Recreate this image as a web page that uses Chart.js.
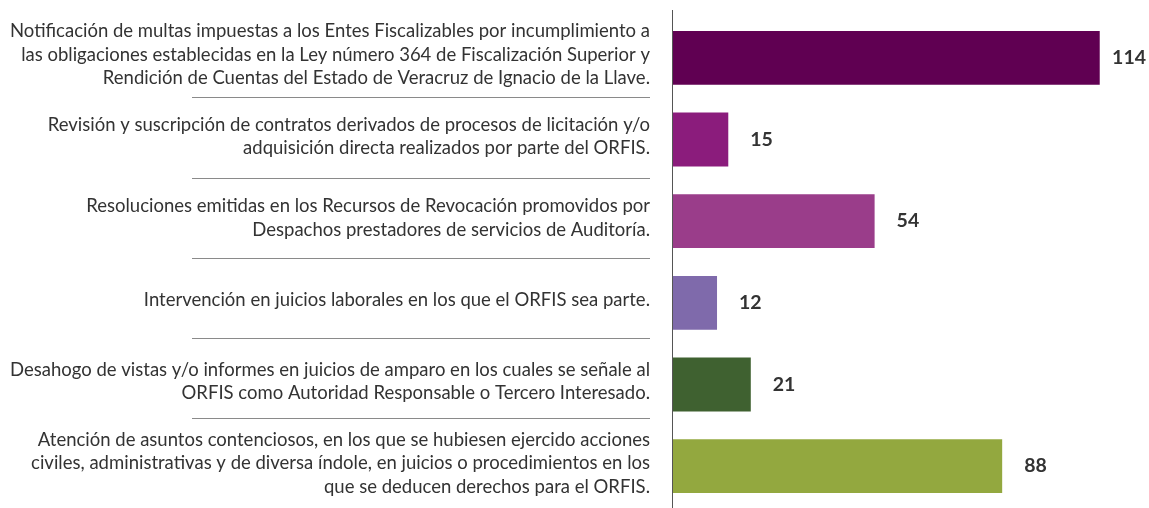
<!DOCTYPE html>
<html>
<head>
<meta charset="utf-8">
<script src="https://cdn.jsdelivr.net/npm/chart.js@4/dist/chart.umd.min.js"></script>
<style>
  html, body { margin: 0; padding: 0; background: #fff; }
  #wrap { width: 1149px; height: 508px; }
</style>
</head>
<body>
<div id="wrap"><canvas id="chart"></canvas></div>
<script>
const categories = [
  ['Notificación de multas impuestas a los Entes Fiscalizables por incumplimiento a',
   'las obligaciones establecidas en la Ley número 364 de Fiscalización Superior y',
   'Rendición de Cuentas del Estado de Veracruz de Ignacio de la Llave.'],
  ['Revisión y suscripción de contratos derivados de procesos de licitación y/o',
   'adquisición directa realizados por parte del ORFIS.'],
  ['Resoluciones emitidas en los Recursos de Revocación promovidos por',
   'Despachos prestadores de servicios de Auditoría.'],
  ['Intervención en juicios laborales en los que el ORFIS sea parte.'],
  ['Desahogo de vistas y/o informes en juicios de amparo en los cuales se señale al',
   'ORFIS como Autoridad Responsable o Tercero Interesado.'],
  ['Atención de asuntos contenciosos, en los que se hubiesen ejercido acciones',
   'civiles, administrativas y de diversa índole, en juicios o procedimientos en los',
   'que se deducen derechos para el ORFIS.']
];
const values = [114, 15, 54, 12, 21, 88];
const barColors = ['#600052', '#8b1c7c', '#9a3d8a', '#7f6aab', '#3f6130', '#93a83f'];

// category labels, separators, axis line, value labels
const extras = {
  id: 'extras',
  afterDraw(chart) {
    const c = chart.ctx;
    const y = chart.scales.y;
    const area = chart.chartArea;
    const meta = chart.getDatasetMeta(0);
    c.save();

    c.font = '18.5px Lato';
    c.fillStyle = '#333';
    c.textAlign = 'right';
    c.textBaseline = 'middle';
    const lh = 23.5;
    meta.data.forEach((bar, i) => {
      const lines = categories[i];
      const y0 = bar.y - 3 - (lines.length - 1) * lh / 2;
      lines.forEach((ln, k) => c.fillText(ln, 650, y0 + k * lh));
    });

    // separators sit a little above the midpoint, more so further down
    c.strokeStyle = '#8a8a8a';
    c.lineWidth = 1;
    for (let i = 1; i < values.length; i++) {
      const mid = (y.getPixelForValue(i - 1) + y.getPixelForValue(i)) / 2;
      const yy = Math.round(mid - 1.4 * i) + 0.5;
      c.beginPath();
      c.moveTo(192, yy);
      c.lineTo(650, yy);
      c.stroke();
    }
    c.strokeStyle = '#555';
    c.beginPath();
    c.moveTo(area.left + 0.5, area.top - 7);
    c.lineTo(area.left + 0.5, area.bottom + 1);
    c.stroke();

    c.font = 'bold 19.5px Lato';
    c.textAlign = 'left';
    meta.data.forEach((bar, i) => {
      const txt = String(values[i]);
      const w = c.measureText(txt).width;
      const x = Math.min(bar.x + 22, chart.width - 3 - w);
      c.fillText(txt, x, bar.y);
    });
    c.restore();
  }
};

new Chart(document.getElementById('chart'), {
  type: 'bar',
  data: {
    labels: categories,
    datasets: [{
      data: values,
      backgroundColor: barColors,
      barPercentage: 0.66,
      categoryPercentage: 1
    }]
  },
  options: {
    indexAxis: 'y',
    responsive: true,
    maintainAspectRatio: false,
    animation: false,
    layout: { padding: { top: 17, bottom: 1, left: 0, right: 8 } },
    plugins: { legend: { display: false }, tooltip: { enabled: false } },
    scales: {
      x: { display: false, min: 0, max: 125 },
      y: {
        grid: { display: false, drawTicks: false },
        border: { display: false },
        ticks: { display: false },
        afterFit(scale) { scale.width = 672; }
      }
    }
  },
  plugins: [extras]
});
</script>
</body>
</html>
